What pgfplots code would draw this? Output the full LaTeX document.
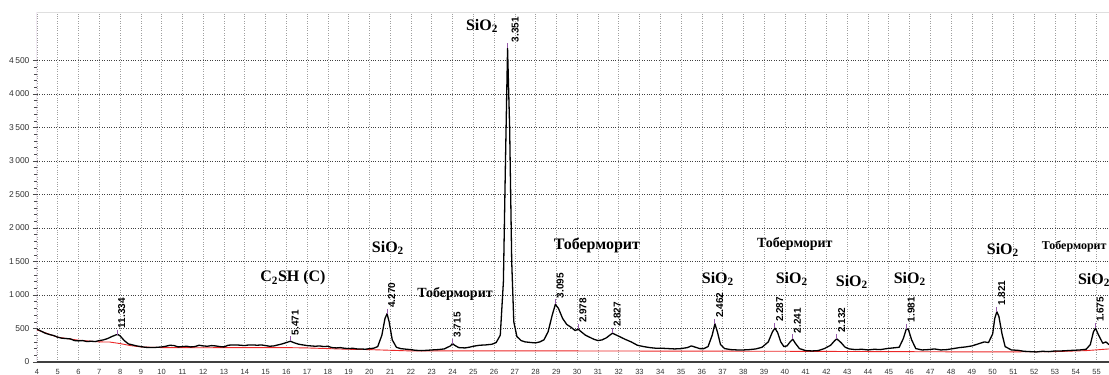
\documentclass[border=0pt]{standalone}
\usepackage{fontspec}
\setmainfont{Liberation Serif}
\newfontfamily\arial{Liberation Sans}
\usepackage{pgfplots}
\pgfplotsset{compat=1.18}
\definecolor{pk}{RGB}{150,90,170}
\definecolor{bgred}{RGB}{235,40,40}
\begin{document}
\begin{tikzpicture}
\begin{axis}[
  scale only axis, width=1072pt, height=350pt,
  xmin=4, xmax=55.6, ymin=0, ymax=5224,
  xtick distance=1, ytick={0,500,...,4500},
  minor y tick num=4,
  grid=major,
  x grid style={gray!75, dotted, line width=0.6pt},
  y grid style={black!75, dotted, line width=0.9pt},
  axis line style={draw=none},
  tick align=outside,
  xtick pos=lower, ytick pos=left,
  major tick length=4pt, minor tick length=3pt,
  every tick/.style={black!70, line width=0.6pt},
  xtick style={draw=none},
  /pgf/number format/assume math mode=true,
  /pgf/number format/1000 sep={\,},
  yticklabel style={font=\arial\fontsize{8.5}{9}\selectfont, text=black!80},
  xticklabel style={font=\arial\fontsize{7.5}{8}\selectfont, text=black!80, inner sep=0pt, yshift=-3pt},
  every axis plot/.append style={line join=round},
]
% axis lines
\draw[pk, line width=1pt] (rel axis cs:0,0) -- (rel axis cs:0,1);
\draw[gray!25, line width=0.6pt] (rel axis cs:0,1) -- (rel axis cs:1,1);
\draw[black!75, line width=1.6pt] (rel axis cs:0,0) -- (rel axis cs:1,0);
% background
\addplot[bgred, line width=0.9pt] coordinates {
(4,480) (5,370) (6,325) (7,300) (7.5,298) (8,275) (8.5,245) (9,225) (10,215)
(12,213) (14,215) (16,215) (17,210) (18,200) (19,190) (20,185) (21,175)
(22,165) (30,165) (40,160) (50,150) (53,155) (54.5,170) (55.6,195)
};
% pattern
\addplot[black, line width=1.3pt] coordinates {
(4.0,490) (4.2,460) (4.4,430) (4.6,410) (4.8,395) (5.0,370) (5.2,355) (5.4,350)
(5.6,345) (5.8,320) (6.0,315) (6.2,320) (6.4,305) (6.6,310) (6.8,305) (7.0,320)
(7.2,330) (7.4,350) (7.6,380) (7.8,405) (7.9,410) (8.0,390) (8.2,320) (8.4,270)
(8.6,255) (8.8,240) (9.0,230) (9.2,220) (9.4,215) (9.6,215) (9.8,220) (10.0,225)
(10.2,235) (10.4,250) (10.6,245) (10.8,225) (11.0,230) (11.2,235) (11.4,225)
(11.6,230) (11.8,250) (12.0,240) (12.2,235) (12.4,245) (12.6,240) (12.8,230)
(13.0,225) (13.2,250) (13.4,255) (13.6,255) (13.8,250) (14.0,245) (14.2,255)
(14.4,255) (14.6,250) (14.8,255) (15.0,245) (15.2,235) (15.4,240) (15.6,255)
(15.8,270) (16.0,290) (16.2,310) (16.4,285) (16.6,265) (16.8,255) (17.0,245)
(17.2,240) (17.4,235) (17.6,240) (17.8,230) (18.0,235) (18.2,215) (18.4,210)
(18.6,215) (18.8,205) (19.0,200) (19.2,205) (19.4,195) (19.6,195) (19.8,190)
(20.0,200) (20.2,205) (20.4,230) (20.6,400) (20.75,650) (20.85,720) (20.95,600)
(21.1,330) (21.3,220) (21.5,200) (21.8,190) (22.0,185) (22.2,175) (22.5,170)
(22.8,175) (23.0,180) (23.3,185) (23.6,195) (23.9,240) (24.0,275) (24.1,250)
(24.3,215) (24.6,210) (24.8,220) (25.0,235) (25.3,250) (25.6,255) (25.9,265)
(26.1,290) (26.3,400) (26.45,1200) (26.55,3000) (26.65,4680) (26.75,3500)
(26.85,1500) (26.95,600) (27.1,380) (27.3,320) (27.5,300) (27.8,290) (28.0,285)
(28.2,300) (28.4,330) (28.6,450) (28.8,700) (28.95,860) (29.1,800) (29.3,650)
(29.5,560) (29.7,520) (29.9,470) (30.05,490) (30.2,450) (30.4,400) (30.6,370)
(30.8,340) (31.0,320) (31.2,330) (31.4,360) (31.7,430) (31.9,400) (32.1,370)
(32.3,340) (32.6,300) (32.9,250) (33.2,230) (33.5,215) (33.8,205) (34.1,205)
(34.4,200) (34.7,195) (35.0,200) (35.3,215) (35.5,240) (35.7,220) (35.9,200)
(36.1,200) (36.3,230) (36.5,400) (36.63,570) (36.75,450) (36.9,260) (37.1,200)
(37.4,185) (37.7,180) (38.0,180) (38.3,185) (38.6,195) (38.9,220) (39.2,300)
(39.4,450) (39.52,505) (39.65,440) (39.8,300) (39.95,230) (40.1,240) (40.25,300)
(40.38,340) (40.5,280) (40.7,200) (41.0,170) (41.3,165) (41.6,170) (41.9,200)
(42.2,250) (42.4,320) (42.5,345) (42.7,290) (42.9,220) (43.1,195) (43.4,185)
(43.7,190) (44.0,180) (44.3,190) (44.6,185) (44.9,200) (45.2,210) (45.5,220)
(45.7,350) (45.85,500) (45.95,480) (46.1,330) (46.3,200) (46.6,180) (46.9,185)
(47.2,195) (47.5,180) (47.8,185) (48.1,200) (48.4,215) (48.7,225) (49.0,240)
(49.3,270) (49.6,300) (49.8,290) (50.0,420) (50.1,650) (50.2,750) (50.3,680)
(50.45,420) (50.6,230) (50.9,180) (51.2,175) (51.5,160) (51.8,155) (52.1,150)
(52.4,160) (52.7,155) (53.0,165) (53.3,165) (53.6,170) (53.9,175) (54.2,180)
(54.5,190) (54.7,260) (54.85,450) (54.95,505) (55.1,400) (55.3,280) (55.45,300)
(55.6,260)
};
% peak markers
\addplot[only marks, mark=|, pk, mark size=2.5pt, mark options={yshift=2.5pt, line width=0.9pt}] coordinates {
(7.85,410) (16.2,310) (20.85,720) (24.0,275) (26.65,4680) (28.95,860) (30.05,490)
(31.7,430) (36.63,570) (39.52,505) (40.38,340) (42.5,345) (45.85,500) (50.2,750) (54.95,505)
};
% d-spacing labels
\tikzset{dl/.style={rotate=90, anchor=north west, inner sep=0pt, font=\arial\bfseries\fontsize{10}{10}\selectfont}}
\node[dl] at ([shift={(1pt,6pt)}]axis cs:7.85,410) {11.334};
\node[dl] at ([shift={(1pt,6pt)}]axis cs:16.2,310) {5.471};
\node[dl] at ([shift={(1pt,6pt)}]axis cs:20.85,720) {4.270};
\node[dl] at ([shift={(1pt,6pt)}]axis cs:24.0,275) {3.715};
\node[dl] at ([shift={(4pt,6pt)}]axis cs:26.65,4680) {3.351};
\node[dl] at ([shift={(1pt,6pt)}]axis cs:28.95,860) {3.095};
\node[dl] at ([shift={(1pt,6pt)}]axis cs:30.05,490) {2.978};
\node[dl] at ([shift={(1pt,6pt)}]axis cs:31.7,430) {2.827};
\node[dl] at ([shift={(1pt,6pt)}]axis cs:36.63,570) {2.462};
\node[dl] at ([shift={(1pt,6pt)}]axis cs:39.52,505) {2.287};
\node[dl] at ([shift={(1pt,6pt)}]axis cs:40.38,340) {2.241};
\node[dl] at ([shift={(1pt,6pt)}]axis cs:42.5,345) {2.132};
\node[dl] at ([shift={(1pt,6pt)}]axis cs:45.85,500) {1.981};
\node[dl] at ([shift={(1pt,6pt)}]axis cs:50.2,750) {1.821};
\node[dl] at ([shift={(1pt,6pt)}]axis cs:54.95,505) {1.675};
% phase labels
\tikzset{big/.style={inner sep=0pt, font=\bfseries\fontsize{16}{16}\selectfont},
         sm/.style={inner sep=0pt, font=\bfseries\fontsize{14}{14}\selectfont}}
\node[big] at (axis cs:25.42,5016) {SiO\textsubscript{2}};
\node[big] at (axis cs:16.32,1254) {C\textsubscript{2}SH (C)};
\node[big] at (axis cs:20.89,1702) {SiO\textsubscript{2}};
\node[sm]  at (axis cs:24.12,1015) {Тоберморит};
\node[big] at (axis cs:30.95,1732) {Тоберморит};
\node[big] at (axis cs:36.77,1239) {SiO\textsubscript{2}};
\node[sm]  at (axis cs:40.48,1762) {Тоберморит};
\node[big] at (axis cs:40.33,1239) {SiO\textsubscript{2}};
\node[big] at (axis cs:43.22,1194) {SiO\textsubscript{2}};
\node[big] at (axis cs:46.01,1239) {SiO\textsubscript{2}};
\node[big] at (axis cs:50.49,1672) {SiO\textsubscript{2}};
\node[sm, anchor=west, font=\bfseries\fontsize{12}{12}\selectfont] at (axis cs:52.36,1717) {Тоберморит};
\node[big, anchor=west] at (axis cs:54.1,1224) {SiO\textsubscript{2}};
\end{axis}
\pgfresetboundingbox
\path ([shift={(-37pt,-12pt)}]current axis.south west) rectangle ([shift={(0pt,12pt)}]current axis.north east);
\end{tikzpicture}
\end{document}
